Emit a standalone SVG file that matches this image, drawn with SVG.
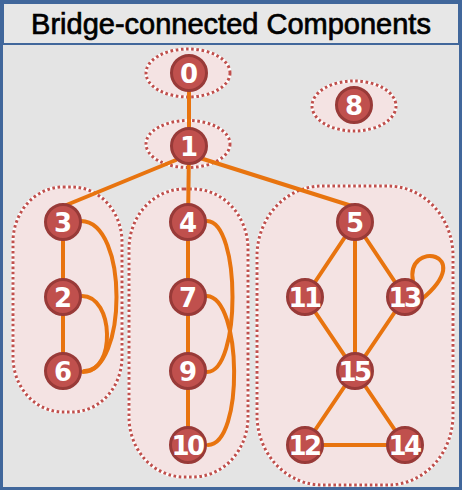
<svg xmlns="http://www.w3.org/2000/svg" width="462" height="490" viewBox="0 0 462 490">
<style>
.bg{fill:#e4e4e4}
.reg{fill:#f4e3e3;stroke:#ffffff;stroke-width:3}
.dot{fill:none;stroke:#c0504d;stroke-width:3;stroke-dasharray:2.6 2.6}
.e{fill:none;stroke:#e8740f;stroke-width:4;stroke-linecap:round}
.n{fill:#c0504d;stroke:#983a38;stroke-width:3}
.t{fill:#ffffff;font-family:"DejaVu Sans",sans-serif;font-weight:bold;font-size:26px;text-anchor:middle}
.t2{letter-spacing:-2.5px}
</style>
<rect class="bg" x="0" y="0" width="462" height="490"/>
<rect x="1.5" y="1.5" width="459" height="487" fill="none" stroke="#41679b" stroke-width="3"/>
<rect x="3" y="3" width="456" height="41" fill="#e7e7e7" stroke="#41679b" stroke-width="2"/>
<text x="231" y="34" font-family="Liberation Sans, Arial, sans-serif" font-size="29" text-anchor="middle" fill="#000" stroke="#000" stroke-width="0.7">Bridge-connected Components</text>

<g id="regions">
<ellipse class="reg" cx="188" cy="73" rx="42" ry="24"/><ellipse class="dot" cx="188" cy="73" rx="42" ry="24"/>
<ellipse class="reg" cx="188" cy="144" rx="42" ry="23.5"/><ellipse class="dot" cx="188" cy="144" rx="42" ry="23.5"/>
<ellipse class="reg" cx="354" cy="106" rx="42" ry="25"/><ellipse class="dot" cx="354" cy="106" rx="42" ry="25"/>
<rect class="reg" x="13" y="187" width="109" height="225" rx="50" ry="55"/><rect class="dot" x="13" y="187" width="109" height="225" rx="50" ry="55"/>
<rect class="reg" x="129" y="189" width="119" height="288" rx="55" ry="60"/><rect class="dot" x="129" y="189" width="119" height="288" rx="55" ry="60"/>
<rect class="reg" x="257" y="186" width="196" height="299" rx="65" ry="70"/><rect class="dot" x="257" y="186" width="196" height="299" rx="65" ry="70"/>
</g>

<g id="connectors">
<line class="e" x1="189" y1="74" x2="189" y2="147"/>
<line class="e" x1="176" y1="160" x2="64" y2="206"/>
<line class="e" x1="189" y1="147" x2="188" y2="223"/>
<line class="e" x1="200" y1="158" x2="355" y2="207"/>
<line class="e" x1="63" y1="222" x2="63" y2="372"/>
<path class="e" d="M81,221 C129,222 127,372 83,372"/>
<path class="e" d="M82,296 C114,296 116,372 84,371"/>
<line class="e" x1="188" y1="222" x2="188" y2="445"/>
<path class="e" d="M207,221 C241,222 241,372 207,372"/>
<path class="e" d="M207,296 C242,298 244,444 208,445"/>
<line class="e" x1="355" y1="222" x2="305" y2="297"/>
<line class="e" x1="355" y1="222" x2="405" y2="297"/>
<line class="e" x1="355" y1="222" x2="355" y2="371"/>
<line class="e" x1="305" y1="297" x2="355" y2="371"/>
<line class="e" x1="405" y1="297" x2="355" y2="371"/>
<line class="e" x1="355" y1="371" x2="305" y2="445"/>
<line class="e" x1="355" y1="371" x2="405" y2="445"/>
<line class="e" x1="305" y1="445" x2="405" y2="445"/>
<path class="e" d="M413,281 C405,240 478,252 422,299"/>
</g>

<g id="n0"><circle class="n" cx="189" cy="73" r="17.5"/><text class="t" x="189" y="82.5">0</text></g>
<g id="n1"><circle class="n" cx="189" cy="146" r="17.5"/><text class="t" x="189" y="155.5">1</text></g>
<g id="n8"><circle class="n" cx="354" cy="105" r="17.5"/><text class="t" x="354" y="114.5">8</text></g>
<g id="n3"><circle class="n" cx="63" cy="222" r="17.5"/><text class="t" x="63" y="231.5">3</text></g>
<g id="n2"><circle class="n" cx="63" cy="297" r="17.5"/><text class="t" x="63" y="306.5">2</text></g>
<g id="n6"><circle class="n" cx="63" cy="371" r="17.5"/><text class="t" x="63" y="380.5">6</text></g>
<g id="n4"><circle class="n" cx="188" cy="222" r="17.5"/><text class="t" x="188" y="231.5">4</text></g>
<g id="n7"><circle class="n" cx="188" cy="297" r="17.5"/><text class="t" x="188" y="306.5">7</text></g>
<g id="n9"><circle class="n" cx="188" cy="371" r="17.5"/><text class="t" x="188" y="380.5">9</text></g>
<g id="n10"><circle class="n" cx="188" cy="445" r="17.5"/><text class="t t2" x="187" y="454.5">10</text></g>
<g id="n5"><circle class="n" cx="355" cy="222" r="17.5"/><text class="t" x="355" y="231.5">5</text></g>
<g id="n11"><circle class="n" cx="305" cy="297" r="17.5"/><text class="t t2" x="304" y="306.5">11</text></g>
<g id="n13"><circle class="n" cx="405" cy="297" r="17.5"/><text class="t t2" x="404" y="306.5">13</text></g>
<g id="n15"><circle class="n" cx="355" cy="371" r="17.5"/><text class="t t2" x="354" y="380.5">15</text></g>
<g id="n12"><circle class="n" cx="305" cy="445" r="17.5"/><text class="t t2" x="304" y="454.5">12</text></g>
<g id="n14"><circle class="n" cx="405" cy="445" r="17.5"/><text class="t t2" x="404" y="454.5">14</text></g>
</svg>
